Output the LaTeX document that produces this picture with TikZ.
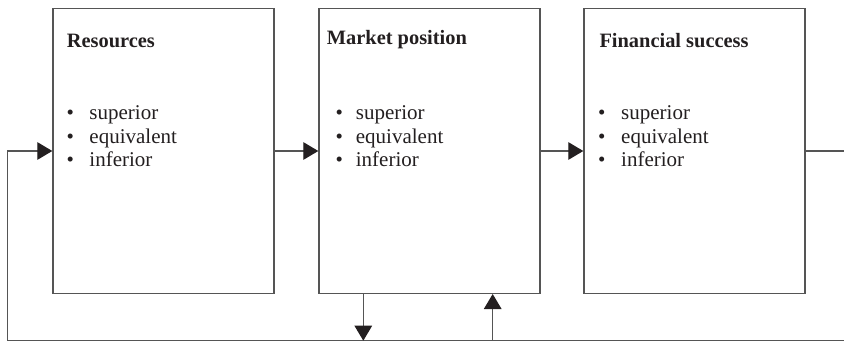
\documentclass[tikz,border=0pt]{standalone}
\usepackage{fontspec}
\setmainfont{Liberation Serif}
\usetikzlibrary{arrows.meta}

\definecolor{linegray}{HTML}{555555}
\definecolor{ink}{HTML}{231F20}

% three-line bullet list; #1 = distance from bullet to text
\newcommand\rankitems[1]{%
  \begin{tabular}[t]{@{}l@{}}
    \makebox[#1][l]{•}superior\\
    \makebox[#1][l]{•}equivalent\\
    \makebox[#1][l]{•}inferior
  \end{tabular}}

\tikzset{
  panel/.style={draw=linegray, line width=1.3pt, rectangle, inner sep=0pt,
    minimum width=221pt, minimum height=284.7pt, anchor=north west},
  heading/.style={anchor=base west, inner sep=0pt, text=ink,
    font=\fontsize{20.4}{23}\selectfont\bfseries},
  items/.style={anchor=base west, inner sep=0pt, text=ink,
    font=\fontsize{21}{23.3}\selectfont},
  flow/.style={draw=linegray, line width=1.3pt},
  tip/.style={-{Triangle[length=15pt,width=17.5pt,color=ink]}},
}

\begin{document}
\begin{tikzpicture}[x=1pt, y=-1pt]
\useasboundingbox (0,0) rectangle (844,342);

% the three stages
\node[panel] (res) at (52.3,8) {};
\node[panel] (mkt) at (318.3,8) {};
\node[panel] (fin) at (583.3,8) {};

\node[heading] (resT) at (66.7,47.3) {Resources};
\node[heading] (mktT) at (326.7,44.3) {Market position};
\node[heading] (finT) at (599.3,47.7) {Financial success};

\node[items] (resL) at (66.3,120) {\rankitems{23pt}};
\node[items] (mktL) at (335.3,120) {\rankitems{20.4pt}};
\node[items] (finL) at (598,120) {\rankitems{23pt}};

% loop helpers
\coordinate (bl) at (7.5,340.7);
\coordinate (br) at (844,340.7);
\coordinate (rightend) at (844,0);
\coordinate (dtop) at ([xshift=45pt]mkt.south west);
\coordinate (utop) at ([xshift=174.4pt]mkt.south west);

% forward flow
\draw[flow,tip] (res.east) -- (mkt.west);
\draw[flow,tip] (mkt.east) -- (fin.west);
\draw[flow] (fin.east) -- (fin.east -| rightend);

% feedback loop along the bottom
\draw[flow] (bl) -- (br);
\draw[flow,tip] (bl) -- (bl |- res.west) -- (res.west);
\draw[flow,tip] (dtop) -- (dtop |- bl);
\draw[flow,tip] (utop |- bl) -- (utop);
\end{tikzpicture}
\end{document}
